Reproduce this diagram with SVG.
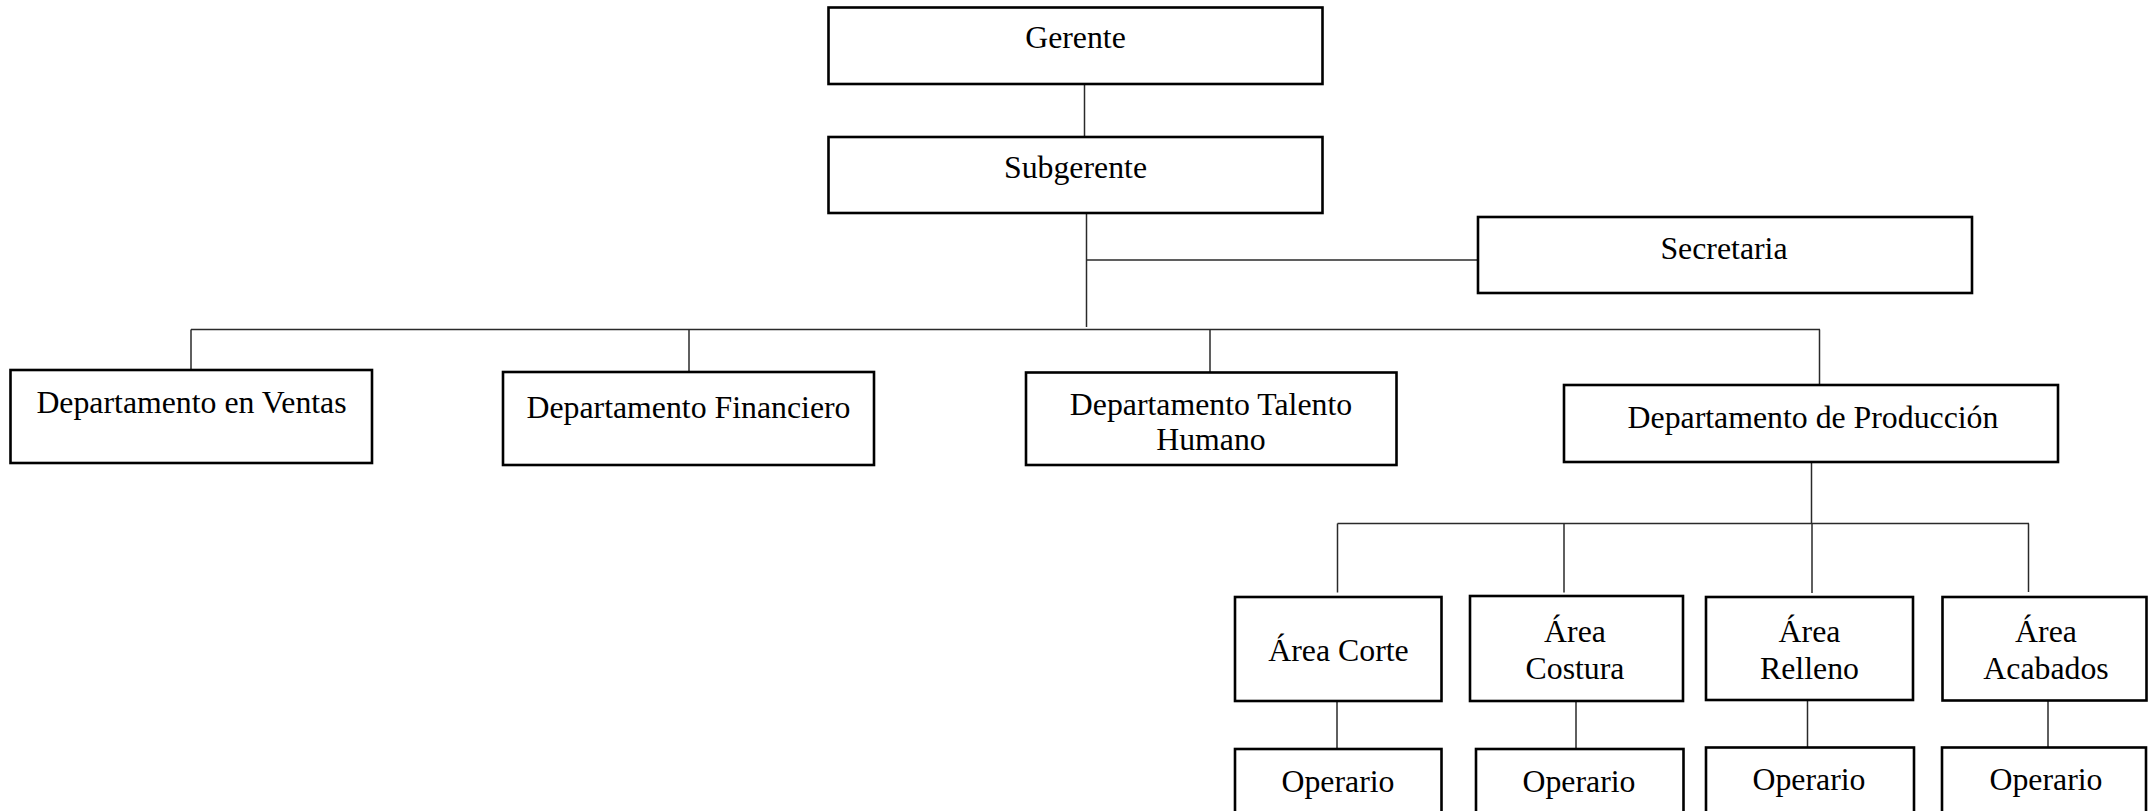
<svg xmlns="http://www.w3.org/2000/svg" width="2148" height="811" viewBox="0 0 2148 811">
<style>
.box{fill:#fff;stroke:#000;stroke-width:2.6}
.t{font-family:"Liberation Serif","Times New Roman",serif;font-size:31.8px;fill:#000;text-anchor:middle}
.c{fill:none;stroke:#2a2a2a;stroke-width:1.5}
</style>
<rect width="2148" height="811" fill="#fff"/>
<g id="connectors">
<path class="c" d="M1084.5 84V137"/>
<path class="c" d="M1086.5 213V327"/>
<path class="c" d="M1086.5 260H1478"/>
<path class="c" d="M191 329.5H1820"/>
<path class="c" d="M191 329.5V370"/>
<path class="c" d="M689 329.5V372"/>
<path class="c" d="M1210 329.5V372.5"/>
<path class="c" d="M1819.5 329.5V385"/>
<path class="c" d="M1811.5 462V523.5"/>
<path class="c" d="M1337.5 523.5H2029"/>
<path class="c" d="M1337.5 523.5V592.5"/>
<path class="c" d="M1564 523.5V592.5"/>
<path class="c" d="M1812 523.5V593"/>
<path class="c" d="M2028.5 523.5V592"/>
<path class="c" d="M1337 701V748"/>
<path class="c" d="M1576 701V748"/>
<path class="c" d="M1807.5 700V747"/>
<path class="c" d="M2048 700V747"/>
</g>
<g id="gerente"><rect class="box" x="828.5" y="7.5" width="494" height="76.5"/><text class="t" x="1075.5" y="48">Gerente</text></g>
<g id="subgerente"><rect class="box" x="828.5" y="137" width="494" height="76"/><text class="t" x="1075.5" y="178">Subgerente</text></g>
<g id="secretaria"><rect class="box" x="1478" y="217" width="494" height="76"/><text class="t" x="1724" y="258.5">Secretaria</text></g>
<g id="ventas"><rect class="box" x="10.5" y="370" width="361.5" height="93"/><text class="t" x="191.5" y="412.5">Departamento en Ventas</text></g>
<g id="financiero"><rect class="box" x="503" y="372" width="371" height="93"/><text class="t" x="688.5" y="418">Departamento Financiero</text></g>
<g id="talento"><rect class="box" x="1026" y="372.5" width="370.5" height="92.5"/><text class="t" x="1211" y="415">Departamento Talento</text><text class="t" x="1211" y="450">Humano</text></g>
<g id="produccion"><rect class="box" x="1564" y="385" width="494" height="77"/><text class="t" x="1813" y="428">Departamento de Producción</text></g>
<g id="area-corte"><rect class="box" x="1235" y="597" width="206.5" height="104"/><text class="t" x="1338.5" y="660.5">Área Corte</text></g>
<g id="area-costura"><rect class="box" x="1470" y="596" width="213" height="105"/><text class="t" x="1575" y="641.5">Área</text><text class="t" x="1575" y="678.5">Costura</text></g>
<g id="area-relleno"><rect class="box" x="1706" y="597" width="207" height="103"/><text class="t" x="1809.5" y="641.5">Área</text><text class="t" x="1809.5" y="679">Relleno</text></g>
<g id="area-acabados"><rect class="box" x="1942.5" y="597" width="204" height="103.5"/><text class="t" x="2046" y="641.5">Área</text><text class="t" x="2046" y="679">Acabados</text></g>
<g id="operario-1"><rect class="box" x="1235" y="749" width="206.5" height="70"/><text class="t" x="1338" y="791.5">Operario</text></g>
<g id="operario-2"><rect class="box" x="1476" y="749" width="207.5" height="70"/><text class="t" x="1579" y="791.5">Operario</text></g>
<g id="operario-3"><rect class="box" x="1706" y="747.5" width="208" height="70"/><text class="t" x="1809" y="790">Operario</text></g>
<g id="operario-4"><rect class="box" x="1942" y="747.5" width="204" height="70"/><text class="t" x="2046" y="790">Operario</text></g>
</svg>
